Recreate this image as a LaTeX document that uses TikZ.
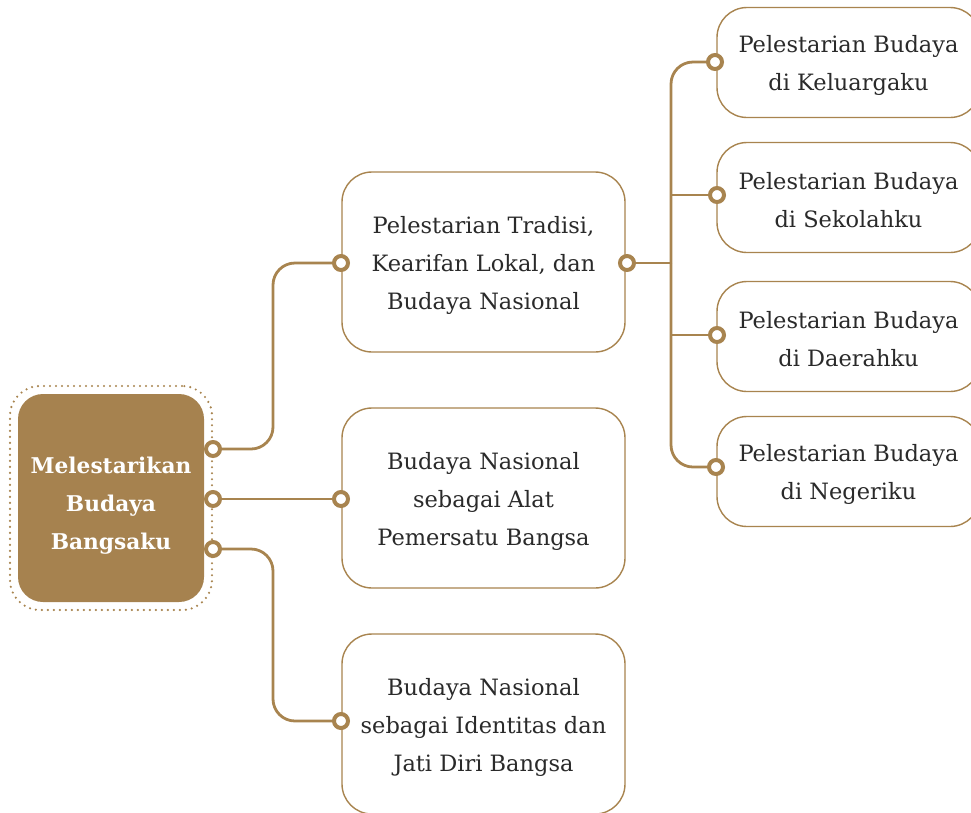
\documentclass[tikz,border=0pt]{standalone}
\usepackage{fontspec}
\setmainfont{DejaVu Serif}
\definecolor{brn}{HTML}{A8844F}
\definecolor{rootfill}{HTML}{A6824F}
\definecolor{txt}{HTML}{2A2A2A}
\begin{document}
\begin{tikzpicture}[x=1pt,y=-1pt,
  box/.style={draw=brn, line width=1.4pt, rounded corners=30pt, fill=white, inner sep=0pt},
  midbox/.style={box, minimum width=283pt, minimum height=180pt},
  rbox/.style={box, minimum width=263pt, minimum height=110pt},
  boxtext/.style={align=center, text=txt, font=\fontsize{22.5}{38}\selectfont, inner sep=0pt},
  conn/.style={draw=brn, line width=2.8pt, rounded corners=22pt},
  port/.style={circle, draw=brn, line width=4pt, fill=white, minimum size=14pt, inner sep=0pt}]
\useasboundingbox (0,0) rectangle (971,812);
% root
\node[draw=brn, line width=2.4pt, dash pattern=on 0pt off 6pt, line cap=round,
  rounded corners=30pt, minimum width=202pt, minimum height=224pt] (rootout) at (111,498) {};
\node[fill=rootfill, rounded corners=25pt, minimum width=186pt, minimum height=208pt] (root) at (111,498) {};
\node[align=center, text=white, font=\bfseries\fontsize{21.7}{38}\selectfont, inner sep=0pt]
  (roottext) at ([yshift=-8pt]root.center) {Melestarikan\\Budaya\\Bangsaku};
% middle boxes
\node[midbox] (trad) at (483.5,262) {};
\node[midbox] (alat) at (483.5,498) {};
\node[midbox] (iden) at (483.5,724) {};
\node[boxtext] (tradtext) at ([yshift=-3pt]trad.center) {Pelestarian Tradisi,\\Kearifan Lokal, dan\\Budaya Nasional};
\node[boxtext] (alattext) at ([yshift=-3pt]alat.center) {Budaya Nasional\\sebagai Alat\\Pemersatu Bangsa};
\node[boxtext] (identext) at ([yshift=-3pt]iden.center) {Budaya Nasional\\sebagai Identitas dan\\Jati Diri Bangsa};
% right boxes
\node[rbox] (kel) at (848.5,62.5) {};
\node[rbox] (sek) at (848.5,197.5) {};
\node[rbox] (dae) at (848.5,336.5) {};
\node[rbox] (neg) at (848.5,471.5) {};
\node[boxtext] (keltext) at ([yshift=-2.5pt]kel.center) {Pelestarian Budaya\\di Keluargaku};
\node[boxtext] (sektext) at ([yshift=-2.5pt]sek.center) {Pelestarian Budaya\\di Sekolahku};
\node[boxtext] (daetext) at ([yshift=-2.5pt]dae.center) {Pelestarian Budaya\\di Daerahku};
\node[boxtext] (negtext) at ([yshift=-2.5pt]neg.center) {Pelestarian Budaya\\di Negeriku};
% port coordinates
\coordinate (r1) at (213,449);
\coordinate (r2) at (213,499);
\coordinate (r3) at (213,549);
\coordinate (tin) at (341,263);
\coordinate (ain) at (341,499);
\coordinate (iin) at (341,721);
\coordinate (tout) at (627,263);
\coordinate (k1) at (715,62);
\coordinate (k2) at (717,195);
\coordinate (k3) at (717,335);
\coordinate (k4) at (716,467);
\coordinate (jn) at (671,263);
% connectors
\draw[conn] (r1) -- ++(60,0) |- (tin);
\draw[conn] (r2) -- (ain);
\draw[conn] (r3) -- ++(60,0) |- (iin);
\draw[conn] (tout) -- (jn);
\draw[conn] (jn) |- (k1);
\draw[conn] (jn) |- (k4);
\draw[conn] (jn |- k2) -- (k2);
\draw[conn] (jn |- k3) -- (k3);
% ports
\foreach \p in {r1,r2,r3,tin,ain,iin,tout,k1,k2,k3,k4}
  \node[port] (port-\p) at (\p) {};
\end{tikzpicture}
\end{document}
